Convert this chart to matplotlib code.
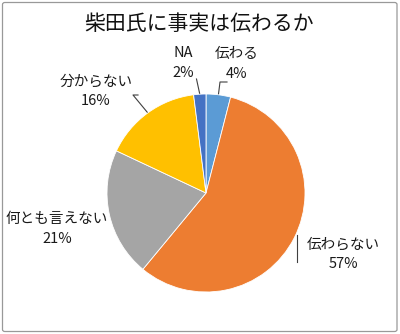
import numpy as np
import matplotlib.pyplot as plt
from matplotlib.patches import FancyBboxPatch

plt.rcParams['font.family'] = ['Noto Sans CJK JP', 'DejaVu Sans']

title = "柴田氏に事実は伝わるか"
labels = ["伝わる", "伝わらない", "何とも言えない", "分からない", "NA"]
shares = [4, 57, 21, 16, 2]
colors = ["#5B9BD5", "#ED7D31", "#A5A5A5", "#FFC000", "#4472C4"]

W, H = 400, 334
fig = plt.figure(figsize=(W / 100, H / 100), dpi=100)
ax = fig.add_axes([0, 0, 1, 1])
ax.set_xlim(0, W)
ax.set_ylim(H, 0)
ax.axis("off")

# outer frame
fig.patches.append(FancyBboxPatch((2.5 / W, 2.5 / H), 394.5 / W, 329 / H,
                                  boxstyle="round,pad=0,rounding_size=0.006",
                                  transform=fig.transFigure, fill=False,
                                  edgecolor="#999999", linewidth=0.9))

ax.text(199, 24, title, ha="center", va="center", fontsize=15, color="#111111")

# pie in a square sub-axes, y pointing up
cx, cy, r = 206, 193, 99
pax = fig.add_axes([(cx - r) / W, (H - cy - r) / H, 2 * r / W, 2 * r / H])
pax.pie(shares, colors=colors, startangle=90, counterclock=False, radius=1,
        wedgeprops=dict(edgecolor="white", linewidth=0.6))
pax.set_xlim(-1, 1)
pax.set_ylim(-1, 1)
pax.set_aspect("auto")
pax.axis("off")

# label centres and leader line ends in pixel coordinates (y downwards)
label_pos = [(237, 64), (343, 254), (57, 229), (96, 91), (183, 63)]
leaders = [[(220, 82), (227, 82)], [(297, 235), (297, 262)], None,
           [(133, 95), (138, 95)], [(196.5, 79)]]

angles = 90 - 360 * (np.cumsum(shares) - np.array(shares) / 2) / sum(shares)
for lab, val, ang, pos, lead in zip(labels, shares, angles, label_pos, leaders):
    ax.text(pos[0], pos[1], f"{lab}\n{val}%", ha="center", va="center",
            fontsize=10.5, linespacing=1.5, color="#1a1a1a")
    if lead is None:
        continue
    a = np.deg2rad(ang)
    start = (cx + r * np.cos(a), cy - r * np.sin(a))
    if len(lead) == 2 and lead[0][0] == lead[1][0]:
        pts = lead
    else:
        pts = [start] + lead
    xs, ys = zip(*pts)
    ax.plot(xs, ys, color="#404040", linewidth=0.8)

fig.savefig("out.png", dpi=100)
